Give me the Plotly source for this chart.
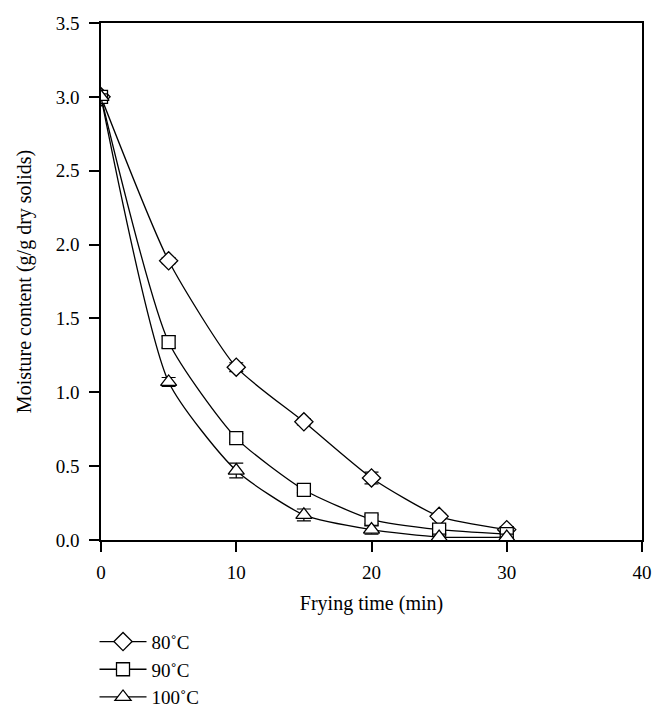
import plotly.graph_objects as go

time_min = [0, 5, 10, 15, 20, 25, 30]
m80 = [3.00, 1.89, 1.17, 0.80, 0.42, 0.16, 0.07]
m90 = [3.00, 1.34, 0.69, 0.34, 0.14, 0.07, 0.04]
m100 = [3.00, 1.07, 0.47, 0.17, 0.07, 0.02, 0.02]
err80 = [0.02, 0.02, 0.03, 0.02, 0.04, 0.02, 0.02]
err90 = [0.02, 0.04, 0.03, 0.02, 0.03, 0.03, 0.02]
err100 = [0.02, 0.03, 0.05, 0.04, 0.03, 0.02, 0.02]
names = ["80˚C", "90˚C", "100˚C"]
symbols = ["diamond", "square", "triangle-up"]
sizes = [14, 13, 14]

FONT = "'Liberation Serif', 'Times New Roman', serif"

fig = go.Figure()
for y, e, n, s, sz in zip([m80, m90, m100], [err80, err90, err100], names, symbols, sizes):
    fig.add_trace(go.Scatter(
        x=time_min, y=y, name=n, mode="lines+markers",
        line=dict(color="black", width=1.3, shape="spline", smoothing=0.6),
        marker=dict(symbol=s, size=sz, color="white", line=dict(color="black", width=1.3)),
        error_y=dict(type="data", array=e, visible=True, color="black", thickness=1.2, width=7),
    ))

fig.update_layout(
    width=657, height=708,
    margin=dict(l=93, r=23, t=15, b=176, autoexpand=False),
    paper_bgcolor="white", plot_bgcolor="white",
    font=dict(family=FONT, size=19, color="black"),
    showlegend=True,
    legend=dict(x=-0.012, y=-0.16, xanchor="left", yanchor="top",
                font=dict(family=FONT, size=19), bgcolor="rgba(0,0,0,0)",
                tracegroupgap=0, itemwidth=47),
    xaxis=dict(range=[0, 40], tickvals=[0, 10, 20, 30, 40], ticktext=["0", "10", "20", "30", "40"],
               showgrid=False, zeroline=False, showline=True, linecolor="black", linewidth=1.5,
               mirror=True, ticks="outside", ticklen=10, tickwidth=1.5, tickcolor="black",
               automargin=False, ticklabelstandoff=4,
               tickfont=dict(family=FONT, size=19),
               title=dict(text="Frying time (min)", font=dict(family=FONT, size=20), standoff=14)),
    yaxis=dict(range=[0, 3.5], tickvals=[0, 0.5, 1.0, 1.5, 2.0, 2.5, 3.0, 3.5],
               ticktext=["0.0", "0.5", "1.0", "1.5", "2.0", "2.5", "3.0", "3.5"],
               showgrid=False, zeroline=False, showline=True, linecolor="black", linewidth=1.5,
               mirror=True, ticks="outside", ticklen=10, tickwidth=1.5, tickcolor="black",
               automargin=False, ticklabelstandoff=6,
               tickfont=dict(family=FONT, size=19),
               title=dict(text="Moisture content (g/g dry solids)", font=dict(family=FONT, size=20), standoff=19)),
)

fig.write_html("out.html")
